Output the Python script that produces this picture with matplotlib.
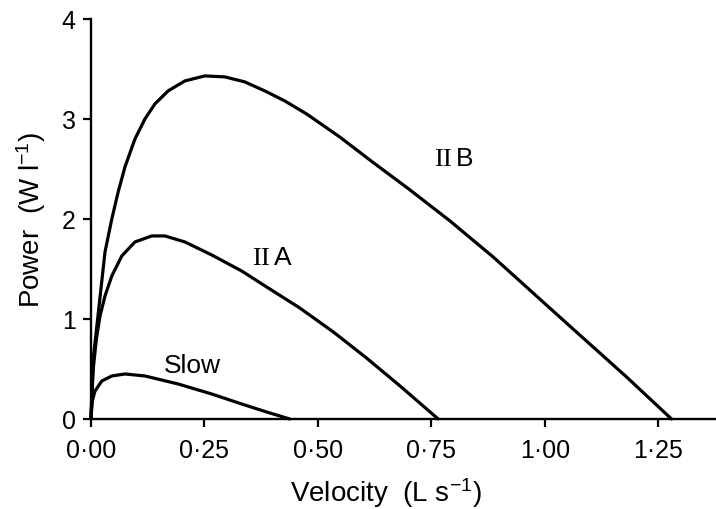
"""
plot.py - Power vs velocity curves for slow, IIA and IIB fibres.
Output: out.png
"""

import matplotlib
matplotlib.use("Agg")
import matplotlib.pyplot as plt

plt.rcParams["font.family"] = ["Liberation Sans", "DejaVu Sans"]
plt.rcParams["mathtext.fontset"] = "custom"
plt.rcParams["mathtext.rm"] = "Liberation Serif"
plt.rcParams["mathtext.default"] = "regular"

# Values (velocity in L/s, power in W/l)
slow_v = [0, 0.003, 0.009, 0.024, 0.046, 0.075, 0.119, 0.192, 0.266, 0.332, 0.387, 0.438]
slow_p = [0, 0.18, 0.28, 0.38, 0.43, 0.45, 0.43, 0.35, 0.25, 0.15, 0.07, 0]

iia_v = [0, 0.005, 0.012, 0.020, 0.031, 0.046, 0.068, 0.097, 0.134, 0.163,
         0.207, 0.266, 0.332, 0.387, 0.460, 0.534, 0.607, 0.681, 0.765]
iia_p = [0, 0.50, 0.80, 1.03, 1.23, 1.43, 1.63, 1.77, 1.83, 1.83,
         1.77, 1.64, 1.48, 1.32, 1.11, 0.87, 0.61, 0.33, 0]

iib_v = [0, 0.005, 0.016, 0.031, 0.046, 0.060, 0.075, 0.097, 0.119, 0.141,
         0.170, 0.207, 0.251, 0.295, 0.339, 0.383, 0.427, 0.475, 0.548, 0.620,
         0.700, 0.791, 0.886, 1.062, 1.180, 1.279]
iib_p = [0, 0.60, 1.05, 1.67, 2.00, 2.27, 2.52, 2.80, 3.00, 3.15,
         3.28, 3.38, 3.43, 3.42, 3.37, 3.28, 3.18, 3.05, 2.82, 2.57,
         2.30, 1.98, 1.62, 0.90, 0.42, 0]

x_ticks = [0, 0.25, 0.50, 0.75, 1.00, 1.25]
x_tick_labels = ["0·00", "0·25", "0·50", "0·75", "1·00", "1·25"]
y_ticks = [0, 1, 2, 3, 4]

# label positions (data coords)
curve_labels = [
    (r"$\mathrm{II}\,$B", 0.80, 2.61),
    (r"$\mathrm{II}\,$A", 0.40, 1.62),
    ("Slow", 0.223, 0.54),
]


def main():
    fig = plt.figure(figsize=(7.16, 5.10), dpi=100)
    ax = fig.add_axes([0.127, 0.1765, 0.873, 0.7845])

    for v, p in [(slow_v, slow_p), (iia_v, iia_p), (iib_v, iib_p)]:
        ax.plot(v, p, color="black", lw=2.3, solid_capstyle="round",
                solid_joinstyle="round", clip_on=False)

    for txt, x, y in curve_labels:
        ax.text(x, y, txt, ha="center", va="center", fontsize=19)

    ax.set_xlim(0, 1.377)
    ax.set_ylim(0, 4)
    ax.set_xticks(x_ticks)
    ax.set_xticklabels(x_tick_labels)
    ax.set_yticks(y_ticks)

    ax.spines["top"].set_visible(False)
    ax.spines["right"].set_visible(False)
    for s in ["left", "bottom"]:
        ax.spines[s].set_linewidth(1.7)
    ax.tick_params(direction="out", length=6, width=1.6, labelsize=18)
    ax.tick_params(axis="x", pad=8)
    ax.tick_params(axis="y", pad=5)

    ax.set_xlabel(r"Velocity  (L s$^{-1}$)", fontsize=20, x=0.472, labelpad=9)
    ax.set_ylabel(r"Power  (W l$^{-1}$)", fontsize=20, labelpad=10)

    fig.savefig("out.png", dpi=100)
    plt.close(fig)


if __name__ == "__main__":
    main()
